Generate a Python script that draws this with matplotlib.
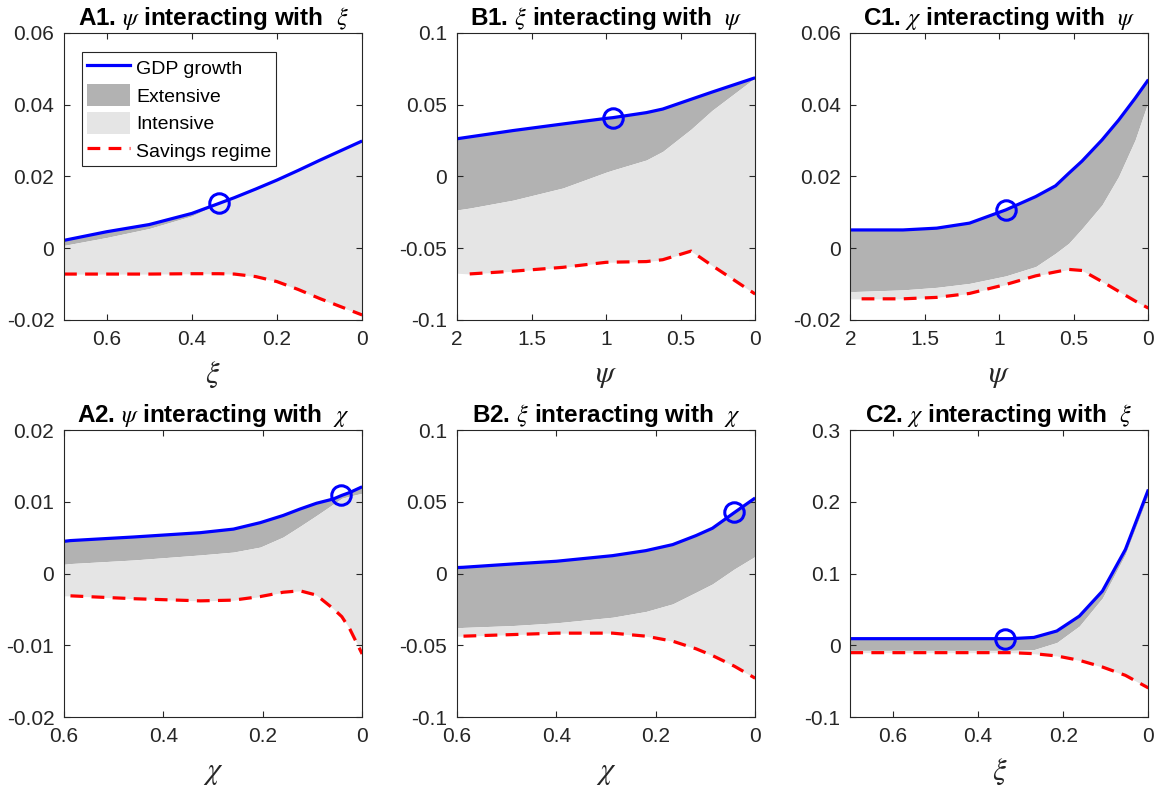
import matplotlib
matplotlib.use("Agg")
from matplotlib import pyplot as plt
from matplotlib.lines import Line2D
from matplotlib.patches import Patch
from matplotlib.ticker import FuncFormatter

plt.rcParams['font.family'] = ['Liberation Sans', 'DejaVu Sans']
plt.rcParams['mathtext.fontset'] = 'stix'
plt.rcParams['axes.unicode_minus'] = False

# A1: psi interacting with xi
a1_x = [0.7, 0.6, 0.5, 0.4, 0.336, 0.3, 0.25, 0.2, 0.15, 0.1, 0.0]
a1_gdp = [0.0022, 0.0046, 0.0066, 0.0097, 0.0125, 0.0141, 0.0165, 0.019, 0.0217, 0.0245, 0.0299]
a1_int = [0.0008, 0.0030, 0.0055, 0.0090, 0.0125, 0.0141, 0.0165, 0.019, 0.0217, 0.0245, 0.0299]
a1_sav = [-0.0072, -0.0072, -0.0072, -0.0071, -0.0071, -0.0072, -0.0079, -0.0093, -0.0115, -0.0140, -0.0186]

# B1: xi interacting with psi
b1_x = [2.0, 1.915, 1.625, 1.29, 1.0, 0.955, 0.73, 0.62, 0.43, 0.29, 0.0]
b1_gdp = [0.0263, 0.0276, 0.0320, 0.0366, 0.0405, 0.0410, 0.0445, 0.0470, 0.0538, 0.0588, 0.0688]
b1_int = [-0.0233, -0.0220, -0.0165, -0.0080, 0.0030, 0.0045, 0.0115, 0.0175, 0.0330, 0.0460, 0.0688]
b1_sav = [-0.0674, -0.0679, -0.0660, -0.0633, -0.0598, -0.0597, -0.0593, -0.0580, -0.0520, -0.0620, -0.0819]

# C1: chi interacting with psi
c1_x = [2.0, 1.924, 1.646, 1.42, 1.2, 0.956, 0.756, 0.623, 0.534, 0.445, 0.311, 0.2, 0.089, 0.0]
c1_gdp = [0.0051, 0.0051, 0.0051, 0.0056, 0.0070, 0.0107, 0.0144, 0.0174, 0.0209, 0.0243, 0.0302, 0.0357, 0.0418, 0.0470]
c1_int = [-0.0121, -0.0120, -0.0116, -0.0109, -0.0098, -0.0077, -0.0051, -0.0014, 0.0014, 0.0055, 0.0121, 0.0200, 0.0302, 0.0410]
c1_sav = [-0.0141, -0.0141, -0.0141, -0.0137, -0.0126, -0.0101, -0.0077, -0.0066, -0.0059, -0.0062, -0.0093, -0.0120, -0.0147, -0.0167]

# A2: psi interacting with chi
a2_x = [0.6, 0.587, 0.46, 0.326, 0.259, 0.205, 0.159, 0.125, 0.092, 0.058, 0.041, 0.025, 0.0]
a2_gdp = [0.0045, 0.0046, 0.0051, 0.0057, 0.0062, 0.0071, 0.0081, 0.0090, 0.0098, 0.0104, 0.0109, 0.0113, 0.0121]
a2_int = [0.0013, 0.0014, 0.0019, 0.0026, 0.0030, 0.0037, 0.0051, 0.0066, 0.0081, 0.0097, 0.0105, 0.0108, 0.0112]
a2_sav = [-0.0031, -0.0031, -0.0035, -0.0038, -0.0037, -0.0032, -0.0026, -0.0024, -0.0030, -0.0049, -0.0060, -0.0077, -0.0112]

# B2: xi interacting with chi
b2_x = [0.6, 0.587, 0.488, 0.4, 0.287, 0.22, 0.166, 0.119, 0.086, 0.042, 0.0]
b2_gdp = [0.0042, 0.0044, 0.0067, 0.0086, 0.0125, 0.0160, 0.0202, 0.0265, 0.0316, 0.0425, 0.0527]
b2_int = [-0.0378, -0.0375, -0.0362, -0.0343, -0.0304, -0.0264, -0.0211, -0.0130, -0.0072, 0.0032, 0.0120]
b2_sav = [-0.0436, -0.0436, -0.0425, -0.0415, -0.0415, -0.0436, -0.0471, -0.0524, -0.0571, -0.0645, -0.0729]

# C2: chi interacting with xi
c2_x = [0.7, 0.646, 0.592, 0.538, 0.485, 0.431, 0.377, 0.323, 0.269, 0.215, 0.162, 0.108, 0.054, 0.0]
c2_gdp = [0.0093, 0.0093, 0.0093, 0.0093, 0.0093, 0.0093, 0.0093, 0.0093, 0.0110, 0.0200, 0.0408, 0.0756, 0.1336, 0.2172]
c2_int = [-0.0070, -0.0070, -0.0070, -0.0070, -0.0070, -0.0070, -0.0070, -0.0070, -0.0060, 0.0040, 0.0270, 0.0660, 0.1270, 0.2100]
c2_sav = [-0.0102, -0.0102, -0.0102, -0.0102, -0.0102, -0.0102, -0.0102, -0.0102, -0.0116, -0.0148, -0.0209, -0.0302, -0.0418, -0.0594]

# baseline circles
circ_x = [0.336, 0.955, 0.955, 0.042, 0.042, 0.336]
circ_y = [0.0125, 0.0410, 0.0107, 0.0109, 0.0428, 0.0093]

panels = [
    (a1_x, a1_gdp, a1_int, a1_sav, 0, r'A1. $\psi$ interacting with  $\xi$', r'$\xi$',
     (0, 0.7), [0, 0.2, 0.4, 0.6], (-0.02, 0.06), [-0.02, 0, 0.02, 0.04, 0.06]),
    (b1_x, b1_gdp, b1_int, b1_sav, 1, r'B1. $\xi$ interacting with  $\psi$', r'$\psi$',
     (0, 2), [0, 0.5, 1, 1.5, 2], (-0.1, 0.1), [-0.1, -0.05, 0, 0.05, 0.1]),
    (c1_x, c1_gdp, c1_int, c1_sav, 1, r'C1. $\chi$ interacting with  $\psi$', r'$\psi$',
     (0, 2), [0, 0.5, 1, 1.5, 2], (-0.02, 0.06), [-0.02, 0, 0.02, 0.04, 0.06]),
    (a2_x, a2_gdp, a2_int, a2_sav, 1, r'A2. $\psi$ interacting with  $\chi$', r'$\chi$',
     (0, 0.6), [0, 0.2, 0.4, 0.6], (-0.02, 0.02), [-0.02, -0.01, 0, 0.01, 0.02]),
    (b2_x, b2_gdp, b2_int, b2_sav, 1, r'B2. $\xi$ interacting with  $\chi$', r'$\chi$',
     (0, 0.6), [0, 0.2, 0.4, 0.6], (-0.1, 0.1), [-0.1, -0.05, 0, 0.05, 0.1]),
    (c2_x, c2_gdp, c2_int, c2_sav, 0, r'C2. $\chi$ interacting with  $\xi$', r'$\xi$',
     (0, 0.7), [0, 0.2, 0.4, 0.6], (-0.1, 0.3), [-0.1, 0, 0.1, 0.2, 0.3]),
]

dark = '#b2b2b2'
light = '#e5e5e5'
edge = '#262626'

fig = plt.figure(figsize=(11.6, 7.95), dpi=100)
lefts = [0.0552, 0.394, 0.733]
bottoms = [0.5975, 0.098]

fmt = FuncFormatter(lambda v, p: '%g' % round(v, 4))

for i, (x, gdp, itop, sav, s0, title, xlab, xl, xt, yl, yt) in enumerate(panels):
    ax = fig.add_axes([lefts[i % 3], bottoms[i // 3], 0.257, 0.361])
    ax.fill_between(x, itop, gdp, color=dark, lw=0)
    ax.fill_between(x, sav, itop, color=light, lw=0)
    ax.plot(x, gdp, color='blue', lw=2.3, solid_capstyle='butt')
    ax.plot(x[s0:], sav[s0:], color='red', lw=2.3, linestyle=(0, (4, 2.6)))
    ax.plot(circ_x[i], circ_y[i], 'o', ms=14, mfc='none', mec='blue', mew=2.2)
    ax.set_xlim(xl[1], xl[0])
    ax.set_ylim(*yl)
    ax.set_xticks(xt)
    ax.set_yticks(yt)
    ax.xaxis.set_major_formatter(fmt)
    ax.yaxis.set_major_formatter(fmt)
    ax.tick_params(direction='in', top=True, right=True, length=4, width=0.8,
                   colors=edge, labelsize=15, pad=7)
    for sp in ax.spines.values():
        sp.set_color(edge)
        sp.set_linewidth(0.8)
    ax.set_title(title, fontsize=17.5, fontweight='bold', pad=6)
    ax.set_xlabel(xlab, fontsize=22, color=edge, labelpad=8)

    if i == 0:
        handles = [Line2D([], [], color='blue', lw=2.3),
                   Patch(facecolor=dark, edgecolor='none'),
                   Patch(facecolor=light, edgecolor='none'),
                   Line2D([], [], color='red', lw=2.3, linestyle=(0, (4, 2.6)))]
        leg = ax.legend(handles, ['GDP growth', 'Extensive', 'Intensive', 'Savings regime'],
                        loc='upper left', bbox_to_anchor=(0.06, 0.935), fontsize=14,
                        fancybox=False, framealpha=1, edgecolor=edge, borderpad=0.25,
                        handlelength=2.2, handleheight=1.35, labelspacing=0.3,
                        handletextpad=0.35, borderaxespad=0)
        leg.get_frame().set_linewidth(0.8)

fig.savefig('out.png', dpi=100)
